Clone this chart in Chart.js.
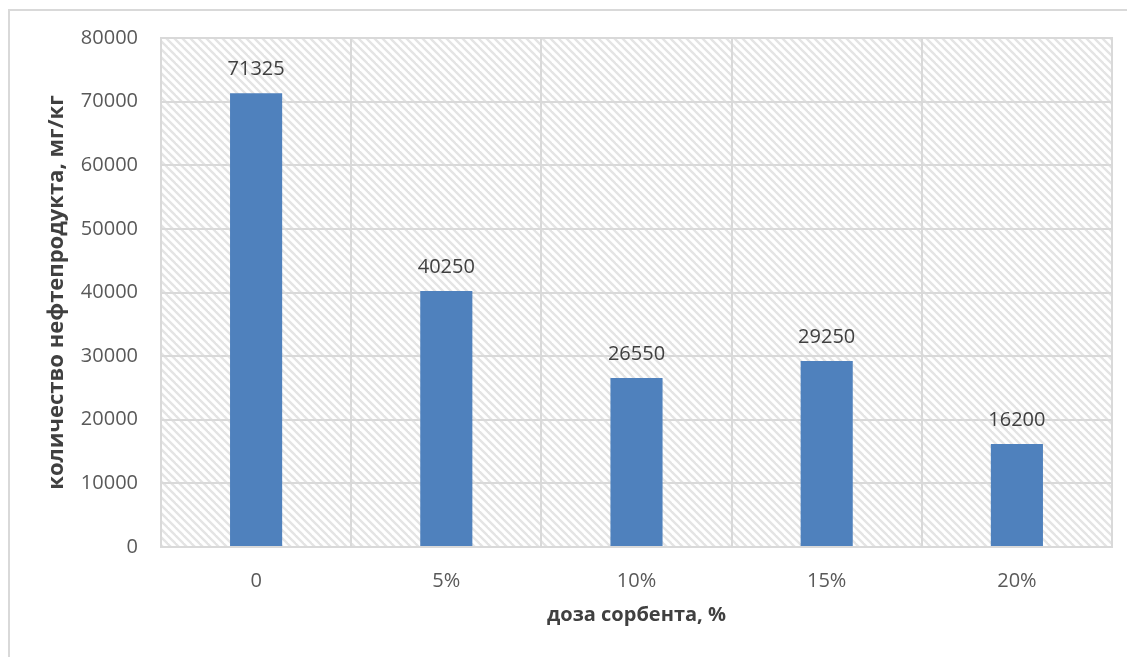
<!DOCTYPE html>
<html>
<head>
<meta charset="utf-8">
<script src="https://cdn.jsdelivr.net/npm/chart.js@4.4.1/dist/chart.umd.min.js"></script>
<style>
  html, body { margin: 0; padding: 0; background: #ffffff; }
  #wrap { width: 1127px; height: 657px; position: relative; }
</style>
</head>
<body>
<div id="wrap"><canvas id="chart" width="1127" height="657"></canvas></div>
<script>
// Доза сорбента и остаточное количество нефтепродукта
const categories = ['0', '5%', '10%', '15%', '20%'];
const oilAmount = [71325, 40250, 26550, 29250, 16200];
const yTicks = [0, 10000, 20000, 30000, 40000, 50000, 60000, 70000, 80000];

const xTitle = 'доза сорбента, %';
const yTitle = 'количество нефтепродукта, мг/кг';

const FONT = '"Open Sans", "Noto Sans", sans-serif';
const GRID = '#d9d9d9';

// diagonal hatch tile for the plot area
function makeHatch(ctx) {
  const s = 8;
  const c = document.createElement('canvas');
  c.width = s; c.height = s;
  const g = c.getContext('2d');
  g.fillStyle = '#ffffff';
  g.fillRect(0, 0, s, s);
  g.strokeStyle = '#e4e4e4';
  g.lineWidth = 2.4;
  for (const off of [-s, 0, s]) {
    g.beginPath();
    g.moveTo(off - 1, -1);
    g.lineTo(off + s + 1, s + 1);
    g.stroke();
  }
  return ctx.createPattern(c, 'repeat');
}

const backdrop = {
  id: 'backdrop',
  beforeDraw(chart) {
    const { ctx, chartArea: a } = chart;
    ctx.save();
    ctx.fillStyle = '#ffffff';
    ctx.fillRect(0, 0, chart.width, chart.height);
    // outer frame
    ctx.strokeStyle = GRID;
    ctx.lineWidth = 2;
    ctx.beginPath();
    ctx.moveTo(9, chart.height + 2);
    ctx.lineTo(9, 10);
    ctx.lineTo(chart.width + 2, 10);
    ctx.stroke();
    // hatched plot area
    ctx.fillStyle = makeHatch(ctx);
    ctx.fillRect(a.left, a.top, a.right - a.left, a.bottom - a.top);
    ctx.restore();
  },
  afterDraw(chart) {
    const { ctx, chartArea: a } = chart;
    ctx.save();
    ctx.strokeStyle = GRID;
    ctx.lineWidth = 2;
    ctx.strokeRect(a.left, a.top, a.right - a.left, a.bottom - a.top);
    ctx.restore();
  }
};

const valueLabels = {
  id: 'valueLabels',
  afterDatasetsDraw(chart) {
    const { ctx } = chart;
    const meta = chart.getDatasetMeta(0);
    const data = chart.data.datasets[0].data;
    ctx.save();
    ctx.font = '20px ' + FONT;
    ctx.fillStyle = '#404040';
    ctx.textAlign = 'center';
    ctx.textBaseline = 'middle';
    meta.data.forEach((bar, i) => {
      ctx.fillText(String(data[i]), bar.x, bar.y - 24);
    });
    ctx.restore();
  }
};

new Chart(document.getElementById('chart'), {
  type: 'bar',
  data: {
    labels: categories,
    datasets: [{
      data: oilAmount,
      backgroundColor: '#4f81bd',
      borderWidth: 0,
      barPercentage: 0.274,
      categoryPercentage: 1
    }]
  },
  options: {
    responsive: false,
    animation: false,
    events: [],
    layout: { padding: { left: 44, top: 38, right: 15, bottom: 30 } },
    plugins: {
      legend: { display: false },
      tooltip: { enabled: false }
    },
    scales: {
      x: {
        offset: true,
        grid: { color: GRID, lineWidth: 2, drawTicks: false, offset: true },
        border: { display: false },
        ticks: { color: '#595959', font: { family: FONT, size: 20 }, padding: 22, maxRotation: 0 },
        title: {
          display: true, text: xTitle, color: '#404040',
          font: { family: FONT, size: 20, weight: 'bold' },
          padding: 0
        },
        afterFit(scale) { scale.height = 80; }
      },
      y: {
        min: 0, max: 80000,
        afterBuildTicks(scale) { scale.ticks = yTicks.map(v => ({ value: v })); },
        grid: { color: GRID, lineWidth: 2, drawTicks: false },
        border: { display: false },
        ticks: {
          color: '#595959', font: { family: FONT, size: 20 }, padding: 23,
          callback: v => String(v)
        },
        title: {
          display: true, text: yTitle, color: '#404040',
          font: { family: FONT, size: 22, weight: 'bold' },
          padding: 0
        },
        afterFit(scale) { scale.width = 117; }
      }
    }
  },
  plugins: [backdrop, valueLabels]
});
</script>
</body>
</html>
